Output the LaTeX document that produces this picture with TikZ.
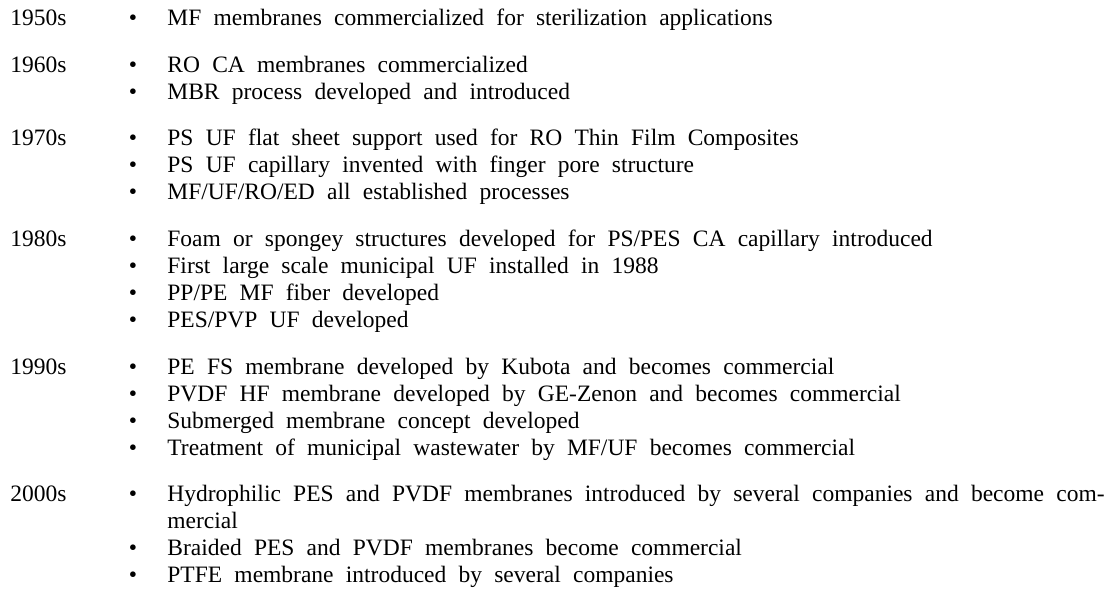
\documentclass[tikz,border=0pt]{standalone}
\usepackage{fontspec}
\setmainfont{Liberation Serif}
\usetikzlibrary{positioning,calc}
\newcommand{\listfont}{\fontsize{11.75}{13.5}\selectfont\spaceskip=0.52em plus 0.4em\relax}

\begin{document}
\begin{tikzpicture}[x=0.5pt, y=-0.5pt,
    decade/.style={anchor=base west, inner sep=0pt, font=\listfont},
    entry/.style={anchor=base west, inner sep=0pt, font=\listfont},
    dot/.style={anchor=base, inner sep=0pt, font=\listfont}]
    \useasboundingbox (0,0) rectangle (1106,598);
    % 1950s
    \node[decade] (d50) at (10, 26) {1950s};
    \node[entry] (e1) at (167, 26) {MF membranes commercialized for sterilization applications};
    % 1960s
    \node[decade] (d60) at (10, 72.5) {1960s};
    \node[entry] (e2) at (167, 72.5) {RO CA membranes commercialized};
    \node[entry] (e3) at (167, 99.5) {MBR process developed and introduced};
    % 1970s
    \node[decade] (d70) at (10, 146) {1970s};
    \node[entry] (e4) at (167, 146) {PS UF flat sheet support used for RO Thin Film Composites};
    \node[entry] (e5) at (167, 173) {PS UF capillary invented with finger pore structure};
    \node[entry] (e6) at (167, 200) {MF/UF/RO/ED all established processes};
    % 1980s
    \node[decade] (d80) at (10, 246.5) {1980s};
    \node[entry] (e7) at (167, 246.5) {Foam or spongey structures developed for PS/PES CA capillary introduced};
    \node[entry] (e8) at (167, 273.5) {First large scale municipal UF installed in 1988};
    \node[entry] (e9) at (167, 300.5) {PP/PE MF fiber developed};
    \node[entry] (e10) at (167, 327.5) {PES/PVP UF developed};
    % 1990s
    \node[decade] (d90) at (10, 374) {1990s};
    \node[entry] (e11) at (167, 374) {PE FS membrane developed by Kubota and becomes commercial};
    \node[entry] (e12) at (167, 401) {PVDF HF membrane developed by GE-Zenon and becomes commercial};
    \node[entry] (e13) at (167, 428) {Submerged membrane concept developed};
    \node[entry] (e14) at (167, 455) {Treatment of municipal wastewater by MF/UF becomes commercial};
    % 2000s
    \node[decade] (d00) at (10, 501.5) {2000s};
    \node[entry] (e15) at (167, 501.5) {\makebox[467.5pt][s]{Hydrophilic PES and PVDF membranes introduced by several companies and become com-}};
    \node[entry] (e15b) at (167, 528.5) {mercial};
    \node[entry] (e16) at (167, 555.5) {Braided PES and PVDF membranes become commercial};
    \node[entry] (e17) at (167, 582.5) {PTFE membrane introduced by several companies};
    % bullets in front of each entry
    \node[dot] (b1) at ([xshift=-17pt]e1.base west) {\textbullet};
    \node[dot] (b2) at ([xshift=-17pt]e2.base west) {\textbullet};
    \node[dot] (b3) at ([xshift=-17pt]e3.base west) {\textbullet};
    \node[dot] (b4) at ([xshift=-17pt]e4.base west) {\textbullet};
    \node[dot] (b5) at ([xshift=-17pt]e5.base west) {\textbullet};
    \node[dot] (b6) at ([xshift=-17pt]e6.base west) {\textbullet};
    \node[dot] (b7) at ([xshift=-17pt]e7.base west) {\textbullet};
    \node[dot] (b8) at ([xshift=-17pt]e8.base west) {\textbullet};
    \node[dot] (b9) at ([xshift=-17pt]e9.base west) {\textbullet};
    \node[dot] (b10) at ([xshift=-17pt]e10.base west) {\textbullet};
    \node[dot] (b11) at ([xshift=-17pt]e11.base west) {\textbullet};
    \node[dot] (b12) at ([xshift=-17pt]e12.base west) {\textbullet};
    \node[dot] (b13) at ([xshift=-17pt]e13.base west) {\textbullet};
    \node[dot] (b14) at ([xshift=-17pt]e14.base west) {\textbullet};
    \node[dot] (b15) at ([xshift=-17pt]e15.base west) {\textbullet};
    \node[dot] (b16) at ([xshift=-17pt]e16.base west) {\textbullet};
    \node[dot] (b17) at ([xshift=-17pt]e17.base west) {\textbullet};
\end{tikzpicture}
\end{document}
